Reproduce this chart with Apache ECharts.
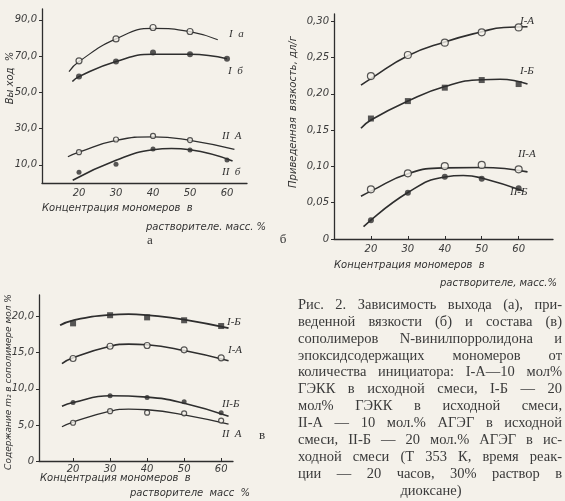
<!DOCTYPE html>
<html><head><meta charset="utf-8">
<script src="https://cdn.jsdelivr.net/npm/echarts@6/dist/echarts.min.js"></script>
<style>html,body{margin:0;padding:0;background:#f4f1ea;} #c{width:565px;height:501px;}</style>
</head><body><div id="c"></div>
<script>
// ---------- data ----------
const xPts = [20, 30, 40, 50, 60];

// (а) yield, %
const aPtsIA  = [67.4, 79.5, 85.8, 83.6, null];
const aPtsIB  = [58.7, 67.0, 72.0, 71.0, 68.5];
const aPtsIIA = [17.0, 24.0, 26.0, 23.7, null];
const aPtsIIB = [5.9, 10.3, 18.8, 18.2, 12.7];
const aCurveIA_x  = [17.3, 20, 30, 40, 50, 57.5];
const aCurveIA_y  = [61.5, 67, 79.5, 85.3, 83.5, 79];
const aCurveIB_x  = [18.2, 20, 30, 40, 50, 60];
const aCurveIB_y  = [56, 58.7, 67, 71, 71, 68.5];
const aCurveIIA_x = [17, 20, 30, 40, 50, 62];
const aCurveIIA_y = [14.5, 17, 23.5, 25.5, 23.5, 18.5];
const aCurveIIB_x = [18.3, 30, 40, 45, 50, 61.5];
const aCurveIIB_y = [1.5, 12.5, 18.3, 19, 18.3, 12.2];
const aYTicks = [10, 30, 50, 70, 90];

// (б) reduced viscosity, dl/g
const bPtsIA  = [0.2245, 0.2535, 0.2705, 0.2847, 0.2915];
const bPtsIB  = [0.166, 0.190, 0.2085, 0.219, 0.2135];
const bPtsIIA = [0.0684, 0.0905, 0.1005, 0.102, 0.096];
const bPtsIIB = [0.026, 0.0638, 0.0858, 0.083, 0.070];
const bCurveIA_x  = [17.3, 20, 30, 40, 50, 56, 62.4];
const bCurveIA_y  = [0.212, 0.221, 0.2525, 0.2715, 0.2855, 0.2915, 0.2925];
const bCurveIB_x  = [17.3, 20, 30, 40, 50, 55, 62.4];
const bCurveIB_y  = [0.1525, 0.164, 0.19, 0.21, 0.2195, 0.22, 0.2135];
const bCurveIIA_x = [17.3, 20, 30, 40, 50, 62.4];
const bCurveIIA_y = [0.059, 0.066, 0.09, 0.098, 0.0985, 0.0925];
const bCurveIIB_x = [18, 30, 40, 45, 50, 61.3];
const bCurveIIB_y = [0.017, 0.064, 0.0855, 0.0875, 0.084, 0.066];
const bYTicks = [0, 0.05, 0.10, 0.15, 0.20, 0.25, 0.30];

// (в) copolymer composition, mol %
const cPtsIB  = [19.07, 20.2, 19.9, 19.5, 18.7];
const cPtsIA  = [14.2, 15.9, 16.0, 15.4, 14.3];
const cPtsIIB = [8.1, 9.05, 8.8, 8.2, 6.7];
const cPtsIIA = [5.3, 6.9, 6.7, 6.6, 5.6];
const cCurveIB_x  = [16.5, 20, 30, 35, 40, 50, 62];
const cCurveIB_y  = [18.8, 19.5, 20.25, 20.35, 20.2, 19.6, 18.4];
const cCurveIA_x  = [17, 20, 30, 35, 40, 50, 62];
const cCurveIA_y  = [13.5, 14.3, 15.9, 16.2, 16.1, 15.3, 13.9];
const cCurveIIB_x = [17, 20, 30, 40, 50, 62];
const cCurveIIB_y = [7.6, 8.1, 9.05, 8.85, 8.0, 6.2];
const cCurveIIA_x = [17, 20, 30, 35, 40, 50, 62];
const cCurveIIA_y = [4.75, 5.4, 6.9, 7.2, 7.1, 6.4, 5.1];
const cYTicks = [0, 5, 10, 15, 20];

const captionLines = [
  'Рис. 2. Зависимость выхода (а), при-',
  'веденной вязкости (б) и состава (в)',
  'сополимеров N-винилпорролидона и',
  'эпоксидсодержащих мономеров от',
  'количества инициатора: I-А—10 мол%',
  'ГЭКК в исходной смеси, I-Б — 20',
  'мол% ГЭКК в исходной смеси,',
  'II-А — 10 мол.% АГЭГ в исходной',
  'смеси, II-Б — 20 мол.% АГЭГ в ис-',
  'ходной смеси (Т 353 К, время реак-',
  'ции — 20 часов, 30% раствор в',
  'диоксане)'
];

// ---------- styling / building ----------
const INK = '#2e2e2e';
const BG = '#f4f1ea';
const tickFont = {fontFamily: 'DejaVu Sans', fontStyle: 'italic', fontSize: 10, color: '#3a3a3a'};

function pairs(xs, ys) { return xs.map((x, i) => [x, ys[i]]); }

function curve(idx, xs, ys, w) {
  return {type: 'line', xAxisIndex: idx, yAxisIndex: idx, data: pairs(xs, ys), smooth: 0.5,
    showSymbol: false, symbol: 'none', lineStyle: {color: INK, width: w || 1.6}, z: 2, silent: true};
}
function pts(idx, ys, kind, size) {
  const open = kind === 'open';
  return {type: 'scatter', xAxisIndex: idx, yAxisIndex: idx,
    data: xPts.map((x, i) => [x, ys[i]]).filter(p => p[1] != null),
    symbol: kind === 'square' ? 'rect' : 'circle', symbolSize: size || 6,
    itemStyle: {color: open ? BG : INK, borderColor: INK, borderWidth: open ? 1.2 : 0}, z: 3, silent: true};
}

function xAxis(idx, min, max, tickInside) {
  return {type: 'value', gridIndex: idx, min: min, max: max,
    axisLine: {show: true, lineStyle: {color: INK, width: 1.3}},
    axisTick: {show: !!tickInside, inside: true, length: 3, customValues: xPts, lineStyle: {color: INK}},
    axisLabel: Object.assign({customValues: xPts, margin: idx === 2 ? 3 : 5}, tickFont),
    splitLine: {show: false}};
}
function yAxis(idx, min, max, ticks, fmt) {
  return {type: 'value', gridIndex: idx, min: min, max: max,
    axisLine: {show: true, lineStyle: {color: INK, width: 1.3}},
    axisTick: {show: true, length: 3, customValues: ticks, lineStyle: {color: INK}},
    axisLabel: Object.assign({customValues: ticks, margin: 5, formatter: fmt}, tickFont),
    splitLine: {show: false}};
}

const graphics = [];
function txt(t, x, y, opt) {
  opt = opt || {};
  graphics.push({type: 'text', x: x, y: y, rotation: opt.rot || 0, silent: true,
    style: {text: t, fill: opt.color || '#333',
      font: opt.font || 'italic 10px "DejaVu Sans"',
      textAlign: opt.align || 'left', textVerticalAlign: 'middle'}});
}

// axis titles
txt('Концентрация мономеров  в', 42, 208);
txt('растворителе. масс. %', 146, 227);
txt('Вы ход  %', 10, 78, {rot: Math.PI / 2, align: 'center'});
txt('Концентрация мономеров  в', 334, 265);
txt('растворителе, масс.%', 440, 283);
txt('Приведенная  вязкость, дл/г', 293, 112, {rot: Math.PI / 2, align: 'center'});
txt('Концентрация мономеров  в', 40, 478);
txt('растворителе  масс  %', 130, 493);
txt('Содержание m₂ в сополимере мол %', 9, 382, {rot: Math.PI / 2, align: 'center', font: 'italic 9px "DejaVu Sans"'});

// panel letters
const serif = '13px "Liberation Serif"';
txt('а', 150, 241, {font: serif, align: 'center'});
txt('б', 283, 240, {font: serif, align: 'center'});
txt('в', 262, 436, {font: serif, align: 'center'});

// curve labels
const lab = 'italic 11px "Liberation Serif"';
txt('I  а', 229, 34, {font: lab});
txt('I  б', 228, 71, {font: lab});
txt('II  А', 222, 136, {font: lab});
txt('II  б', 222, 172, {font: lab});
txt('I-А', 520, 21, {font: lab});
txt('I-Б', 520, 71, {font: lab});
txt('II-А', 518, 154, {font: lab});
txt('II-Б', 510, 192, {font: lab});
txt('I-Б', 227, 322, {font: lab});
txt('I-А', 228, 350, {font: lab});
txt('II-Б', 222, 404, {font: lab});
txt('II  А', 222, 434, {font: lab});

// caption (justified)
const capFont = '14.5px "Liberation Serif"';
const ctx = document.createElement('canvas').getContext('2d');
ctx.font = capFont;
const capL = 298, capR = 562, capTop = 305, capStep = 16.9;
captionLines.forEach((line, li) => {
  const y = capTop + li * capStep;
  if (li === captionLines.length - 1) {
    txt(line, 431, y, {font: capFont, align: 'center', color: '#3a3a3a'});
    return;
  }
  const words = line.split(' ');
  const widths = words.map(w => ctx.measureText(w).width);
  const sum = widths.reduce((a, b) => a + b, 0);
  const gap = Math.max(3, (capR - capL - sum) / (words.length - 1));
  let x = capL;
  words.forEach((w, i) => { txt(w, x, y, {font: capFont, color: '#3a3a3a'}); x += widths[i] + gap; });
});

const fmtA = v => v.toFixed(1).replace('.', ',');
const fmtB = v => v === 0 ? '0' : v.toFixed(2).replace('.', ',');
const fmtC = v => v === 0 ? '0' : v.toFixed(1).replace('.', ',');

const option = {
  backgroundColor: BG,
  animation: false,
  grid: [
    {left: 42, top: 9, width: 205, height: 174},
    {left: 334, top: 14, width: 219, height: 225},
    {left: 39, top: 295, width: 194, height: 166}
  ],
  xAxis: [xAxis(0, 10, 65.4, false), xAxis(1, 10, 69.3, true), xAxis(2, 10.8, 63.2, true)],
  yAxis: [yAxis(0, 0, 96, aYTicks, fmtA), yAxis(1, 0, 0.31, bYTicks, fmtB), yAxis(2, 0, 23, cYTicks, fmtC)],
  series: [
    curve(0, aCurveIA_x, aCurveIA_y, 1.2), curve(0, aCurveIB_x, aCurveIB_y),
    curve(0, aCurveIIA_x, aCurveIIA_y, 1.3), curve(0, aCurveIIB_x, aCurveIIB_y),
    pts(0, aPtsIA, 'open', 6), pts(0, aPtsIB, 'filled', 6), pts(0, aPtsIIA, 'open', 5), pts(0, aPtsIIB, 'filled', 5),
    curve(1, bCurveIA_x, bCurveIA_y), curve(1, bCurveIB_x, bCurveIB_y),
    curve(1, bCurveIIA_x, bCurveIIA_y), curve(1, bCurveIIB_x, bCurveIIB_y),
    pts(1, bPtsIA, 'open', 7), pts(1, bPtsIB, 'square', 6), pts(1, bPtsIIA, 'open', 7), pts(1, bPtsIIB, 'filled', 6),
    curve(2, cCurveIB_x, cCurveIB_y, 1.8), curve(2, cCurveIA_x, cCurveIA_y),
    curve(2, cCurveIIB_x, cCurveIIB_y), curve(2, cCurveIIA_x, cCurveIIA_y, 1.3),
    pts(2, cPtsIB, 'square', 6), pts(2, cPtsIA, 'open', 6), pts(2, cPtsIIB, 'filled', 5), pts(2, cPtsIIA, 'open', 5)
  ],
  graphic: graphics
};
echarts.init(document.getElementById('c'), null, {renderer: 'canvas'}).setOption(option);
</script></body></html>
